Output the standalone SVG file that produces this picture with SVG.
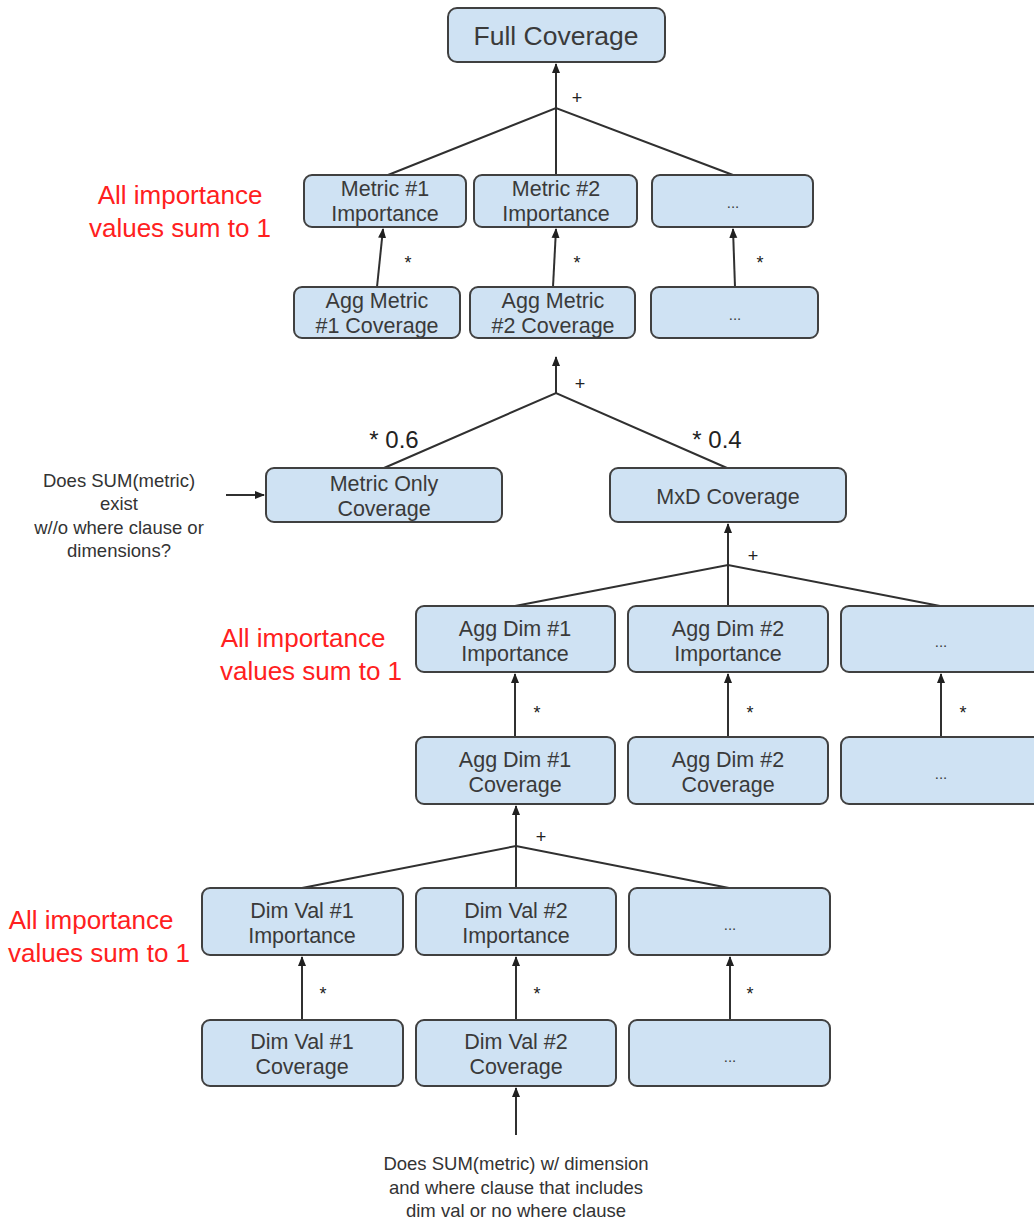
<svg xmlns="http://www.w3.org/2000/svg" width="1034" height="1221" viewBox="0 0 1034 1221">
<defs>
<style>
.box{fill:#cfe2f3;stroke:#404040;stroke-width:2}
.t{font-family:"Liberation Sans",Arial,sans-serif;fill:#3a3a3a;text-anchor:middle}
.n{font-size:21.5px}
.red{font-family:"Liberation Sans",Arial,sans-serif;fill:#ff2020;font-size:26px;text-anchor:middle}
.c{stroke:#303030;stroke-width:2;fill:none}
.lab{font-family:"Liberation Sans",Arial,sans-serif;fill:#222;font-size:18px;text-anchor:middle}
.note{font-family:"Liberation Sans",Arial,sans-serif;fill:#333;font-size:18.5px;text-anchor:middle}
</style>
<marker id="ah" viewBox="0 0 10 10" refX="9" refY="5" markerWidth="5" markerHeight="5" orient="auto-start-reverse" markerUnits="strokeWidth">
<path d="M0,1 L10,5 L0,9 z" fill="#202020"/>
</marker>
</defs>
<rect width="1034" height="1221" fill="#ffffff"/>

<g id="connectors">
<line class="c" x1="556" y1="108" x2="556" y2="64" marker-end="url(#ah)"/>
<polyline class="c" points="388,175 556,108 733,175"/>
<line class="c" x1="556" y1="108" x2="556" y2="175"/>
<line class="c" x1="377" y1="287" x2="383" y2="229" marker-end="url(#ah)"/>
<line class="c" x1="553" y1="287" x2="556" y2="229" marker-end="url(#ah)"/>
<line class="c" x1="735" y1="287" x2="733" y2="229" marker-end="url(#ah)"/>
<line class="c" x1="556" y1="393" x2="556" y2="357" marker-end="url(#ah)"/>
<polyline class="c" points="384,468 556,393 727,468"/>
<line class="c" x1="226" y1="495" x2="264" y2="495" marker-end="url(#ah)"/>
<line class="c" x1="728" y1="565" x2="728" y2="524" marker-end="url(#ah)"/>
<polyline class="c" points="515,606 728,565 940,606"/>
<line class="c" x1="728" y1="565" x2="728" y2="606"/>
<line class="c" x1="515" y1="737" x2="515" y2="674" marker-end="url(#ah)"/>
<line class="c" x1="728" y1="737" x2="728" y2="674" marker-end="url(#ah)"/>
<line class="c" x1="941" y1="737" x2="941" y2="674" marker-end="url(#ah)"/>
<line class="c" x1="516" y1="846" x2="516" y2="806" marker-end="url(#ah)"/>
<polyline class="c" points="302,888 516,846 729,888"/>
<line class="c" x1="516" y1="846" x2="516" y2="888"/>
<line class="c" x1="302" y1="1020" x2="302" y2="957" marker-end="url(#ah)"/>
<line class="c" x1="516" y1="1020" x2="516" y2="957" marker-end="url(#ah)"/>
<line class="c" x1="730" y1="1020" x2="730" y2="957" marker-end="url(#ah)"/>
<line class="c" x1="516" y1="1135" x2="516" y2="1088" marker-end="url(#ah)"/>
<text class="lab" x="577" y="104">+</text>
<text class="lab" x="408" y="269">*</text>
<text class="lab" x="577" y="269">*</text>
<text class="lab" x="760" y="269">*</text>
<text class="lab" x="580" y="390">+</text>
<text class="lab" x="394" y="448" style="font-size:24px">* 0.6</text>
<text class="lab" x="717" y="448" style="font-size:24px">* 0.4</text>
<text class="lab" x="753" y="562">+</text>
<text class="lab" x="537" y="719">*</text>
<text class="lab" x="750" y="719">*</text>
<text class="lab" x="963" y="719">*</text>
<text class="lab" x="541" y="843">+</text>
<text class="lab" x="323" y="1000">*</text>
<text class="lab" x="537" y="1000">*</text>
<text class="lab" x="750" y="1000">*</text>
</g>

<g id="full-coverage"><rect class="box" x="448" y="8" width="217" height="54" rx="9"/><text class="t" x="556" y="45" style="font-size:26.5px">Full Coverage</text></g>

<g id="metric1-imp"><rect class="box" x="304" y="175" width="162" height="52" rx="8"/><text class="t n" x="385" y="196">Metric #1</text><text class="t n" x="385" y="221">Importance</text></g>
<g id="metric2-imp"><rect class="box" x="474" y="175" width="163" height="52" rx="8"/><text class="t n" x="556" y="196">Metric #2</text><text class="t n" x="556" y="221">Importance</text></g>
<g id="metric-more-imp"><rect class="box" x="652" y="175" width="161" height="52" rx="8"/><text class="t" x="733" y="208" style="font-size:15px">...</text></g>

<g id="aggmetric1-cov"><rect class="box" x="294" y="287" width="166" height="51" rx="8"/><text class="t n" x="377" y="308">Agg Metric</text><text class="t n" x="377" y="333">#1 Coverage</text></g>
<g id="aggmetric2-cov"><rect class="box" x="470" y="287" width="165" height="51" rx="8"/><text class="t n" x="553" y="308">Agg Metric</text><text class="t n" x="553" y="333">#2 Coverage</text></g>
<g id="aggmetric-more-cov"><rect class="box" x="651" y="287" width="167" height="51" rx="8"/><text class="t" x="735" y="320" style="font-size:15px">...</text></g>

<g id="metric-only"><rect class="box" x="266" y="468" width="236" height="54" rx="8"/><text class="t n" x="384" y="491">Metric Only</text><text class="t n" x="384" y="516">Coverage</text></g>
<g id="mxd"><rect class="box" x="610" y="468" width="236" height="54" rx="8"/><text class="t n" x="728" y="504">MxD Coverage</text></g>

<g id="aggdim1-imp"><rect class="box" x="416" y="606" width="199" height="66" rx="8"/><text class="t n" x="515" y="636">Agg Dim #1</text><text class="t n" x="515" y="661">Importance</text></g>
<g id="aggdim2-imp"><rect class="box" x="628" y="606" width="200" height="66" rx="8"/><text class="t n" x="728" y="636">Agg Dim #2</text><text class="t n" x="728" y="661">Importance</text></g>
<g id="aggdim-more-imp"><rect class="box" x="841" y="606" width="200" height="66" rx="8"/><text class="t" x="941" y="647" style="font-size:15px">...</text></g>

<g id="aggdim1-cov"><rect class="box" x="416" y="737" width="199" height="67" rx="8"/><text class="t n" x="515" y="767">Agg Dim #1</text><text class="t n" x="515" y="792">Coverage</text></g>
<g id="aggdim2-cov"><rect class="box" x="628" y="737" width="200" height="67" rx="8"/><text class="t n" x="728" y="767">Agg Dim #2</text><text class="t n" x="728" y="792">Coverage</text></g>
<g id="aggdim-more-cov"><rect class="box" x="841" y="737" width="200" height="67" rx="8"/><text class="t" x="941" y="779" style="font-size:15px">...</text></g>

<g id="dimval1-imp"><rect class="box" x="202" y="888" width="201" height="67" rx="8"/><text class="t n" x="302" y="918">Dim Val #1</text><text class="t n" x="302" y="943">Importance</text></g>
<g id="dimval2-imp"><rect class="box" x="416" y="888" width="200" height="67" rx="8"/><text class="t n" x="516" y="918">Dim Val #2</text><text class="t n" x="516" y="943">Importance</text></g>
<g id="dimval-more-imp"><rect class="box" x="629" y="888" width="201" height="67" rx="8"/><text class="t" x="730" y="930" style="font-size:15px">...</text></g>

<g id="dimval1-cov"><rect class="box" x="202" y="1020" width="201" height="66" rx="8"/><text class="t n" x="302" y="1049">Dim Val #1</text><text class="t n" x="302" y="1074">Coverage</text></g>
<g id="dimval2-cov"><rect class="box" x="416" y="1020" width="200" height="66" rx="8"/><text class="t n" x="516" y="1049">Dim Val #2</text><text class="t n" x="516" y="1074">Coverage</text></g>
<g id="dimval-more-cov"><rect class="box" x="629" y="1020" width="201" height="66" rx="8"/><text class="t" x="730" y="1062" style="font-size:15px">...</text></g>

<g id="notes">
<text class="red" x="180" y="204">All importance</text>
<text class="red" x="180" y="237">values sum to 1</text>
<text class="red" x="303" y="647">All importance</text>
<text class="red" x="311" y="680">values sum to 1</text>
<text class="red" x="91" y="929">All importance</text>
<text class="red" x="99" y="962">values sum to 1</text>
<text class="note" x="119" y="487">Does SUM(metric)</text>
<text class="note" x="119" y="510">exist</text>
<text class="note" x="119" y="534">w//o where clause or</text>
<text class="note" x="119" y="557">dimensions?</text>
<text class="note" x="516" y="1170">Does SUM(metric) w/ dimension</text>
<text class="note" x="516" y="1194">and where clause that includes</text>
<text class="note" x="516" y="1217">dim val or no where clause</text>
</g>
</svg>
